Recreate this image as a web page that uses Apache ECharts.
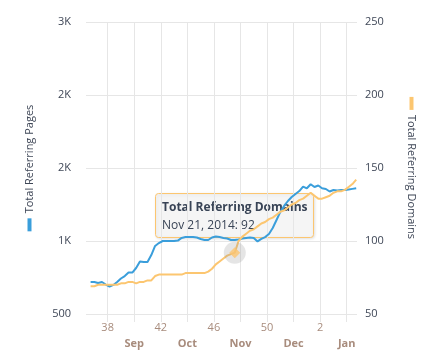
<!DOCTYPE html>
<html><head><meta charset="utf-8">
<script src="https://cdn.jsdelivr.net/npm/echarts@6/dist/echarts.min.js"></script>
<style>html,body{margin:0;padding:0;background:#fff}#c{width:442px;height:358px}</style>
</head><body><div id="c"></div>
<script>
const dates = [
 '2014-09-06','2014-09-08','2014-09-10','2014-09-12','2014-09-14','2014-09-16','2014-09-18','2014-09-20','2014-09-22','2014-09-24','2014-09-26','2014-09-28','2014-09-30',
 '2014-10-02','2014-10-04','2014-10-06','2014-10-08','2014-10-10','2014-10-12','2014-10-14','2014-10-16','2014-10-18','2014-10-20','2014-10-22','2014-10-24','2014-10-26','2014-10-28','2014-10-30',
 '2014-11-01','2014-11-03','2014-11-05','2014-11-07','2014-11-09','2014-11-11','2014-11-13','2014-11-15','2014-11-17','2014-11-19','2014-11-21','2014-11-23','2014-11-25','2014-11-27','2014-11-29',
 '2014-12-01','2014-12-03','2014-12-05','2014-12-07','2014-12-09','2014-12-11','2014-12-13','2014-12-15','2014-12-17','2014-12-19','2014-12-21','2014-12-23','2014-12-25','2014-12-27','2014-12-29','2014-12-31',
 '2015-01-02','2015-01-04','2015-01-06','2015-01-08','2015-01-10','2015-01-12','2015-01-14','2015-01-16','2015-01-18','2015-01-20','2015-01-22','2015-01-24'
];
const referringPages = [
 719,719,712,719,702,688,699,719,743,760,784,784,815,
 860,856,856,904,966,986,1000,1000,1000,1000,1003,1021,1027,1027,1027,
 1024,1014,1007,1007,1024,1031,1027,1021,1017,1007,1007,1010,1017,1021,1024,
 1021,997,1014,1027,1048,1089,1144,1199,1240,1274,1301,1322,1342,1373,1361,1389,
 1370,1380,1361,1356,1339,1349,1346,1349,1349,1353,1357,1361
];
const referringDomains = [
 69,69,70,70,70,70,70,70,71,71,72,72,71,
 72,72,73,73,76,77,77,77,77,77,77,77,78,78,78,
 78,78,78,79,81,84,86,88,90,91,92,100,103,105,107,
 108,110,112,113,115,116,118,120,121,123,125,126,128,129,131,133,
 131,129,129,130,131,133,134,134,135,137,139,142
];
const leftTicks = [500, 1000, 1500, 2000, 2500];
const rightTicks = [50, 100, 150, 200, 250];
const weekTickDates = ['2014-09-15','2014-10-13','2014-11-10','2014-12-08','2015-01-05'];
const weekLabels = ['38','42','46','50','2'];
const monthTickDates = ['2014-09-29','2014-10-27','2014-11-24','2014-12-22','2015-01-19'];
const monthLabels = ['Sep','Oct','Nov','Dec','Jan'];
const axisStart = '2014-09-03T14:00:00';
const axisEnd = '2015-01-24T10:00:00';
const hoverIndex = 38;
const seriesNames = ['Total Referring Pages', 'Total Referring Domains'];

const ts = s => +new Date(s.length === 10 ? s + 'T00:00:00' : s);
const BLUE = '#3a9edb', ORANGE = '#fcc670';
const FONT = 'Open Sans';
const DARK = '#3f4757';
const TAN = '#a88c7d';
const GRID = '#e6e6e6';
const MON = ['Jan','Feb','Mar','Apr','May','Jun','Jul','Aug','Sep','Oct','Nov','Dec'];

const weekTs = weekTickDates.map(ts);
const monthTs = monthTickDates.map(ts);
const allTicks = weekTs.concat(monthTs).sort((a, b) => a - b);

const hd = new Date(ts(dates[hoverIndex]));
const hoverText = MON[hd.getMonth()] + ' ' + hd.getDate() + ', ' + hd.getFullYear() + ': ' + referringDomains[hoverIndex];

const chart = echarts.init(document.getElementById('c'), null, {renderer: 'canvas'});
chart.setOption({
  animation: false,
  textStyle: {fontFamily: FONT},
  grid: {left: 86, right: 85, top: 22, bottom: 44, containLabel: false, outerBoundsMode: 'none'},
  xAxis: {
    type: 'value', min: ts(axisStart), max: ts(axisEnd),
    axisLine: {show: false},
    axisTick: {show: true, length: 8, lineStyle: {color: GRID}, customValues: allTicks},
    splitLine: {show: true, lineStyle: {color: GRID}},
    axisLabel: {
      customValues: allTicks, margin: 6, lineHeight: 16, fontSize: 11, color: TAN, fontFamily: FONT,
      formatter: v => {
        const i = weekTs.indexOf(v);
        if (i >= 0) return '{w|' + weekLabels[i] + '}';
        const j = monthTs.indexOf(v);
        if (j >= 0) return '\n{m|' + monthLabels[j] + '}';
        return '';
      },
      rich: {
        w: {fontSize: 11, color: TAN, fontFamily: FONT, lineHeight: 16},
        m: {fontSize: 11, color: TAN, fontFamily: FONT, fontWeight: 'bold', lineHeight: 16}
      }
    }
  },
  yAxis: [{
    type: 'value', position: 'left', min: leftTicks[0], max: leftTicks[leftTicks.length - 1], interval: leftTicks[1] - leftTicks[0],
    axisLine: {show: false}, axisTick: {show: false},
    splitLine: {show: true, lineStyle: {color: GRID}},
    axisLabel: {margin: 15, fontSize: 11, color: DARK, fontFamily: FONT,
      formatter: v => v >= 1000 ? Math.round(v / 1000) + 'K' : String(v)},
    name: '{bar| }{t|' + seriesNames[0] + '}', nameLocation: 'middle', nameRotate: 90, nameGap: 51,
    nameTextStyle: {rich: {
      bar: {backgroundColor: BLUE, width: 13, height: 4},
      t: {fontSize: 11, color: DARK, fontFamily: FONT, padding: [0, 0, 0, 5]}
    }}
  }, {
    type: 'value', position: 'right', min: rightTicks[0], max: rightTicks[rightTicks.length - 1], interval: rightTicks[1] - rightTicks[0],
    axisLine: {show: false}, axisTick: {show: false}, splitLine: {show: false},
    axisLabel: {margin: 8, fontSize: 11, color: DARK, fontFamily: FONT},
    name: '{bar| }{t|' + seriesNames[1] + '}', nameLocation: 'middle', nameRotate: -90, nameGap: 49,
    nameTextStyle: {rich: {
      bar: {backgroundColor: ORANGE, width: 13, height: 4},
      t: {fontSize: 11, color: DARK, fontFamily: FONT, padding: [0, 0, 0, 5]}
    }}
  }],
  series: [{
    name: seriesNames[0], type: 'line', yAxisIndex: 0, showSymbol: false, silent: true,
    lineStyle: {color: BLUE, width: 2}, itemStyle: {color: BLUE},
    data: dates.map((d, i) => [ts(d), referringPages[i]])
  }, {
    name: seriesNames[1], type: 'line', yAxisIndex: 1, showSymbol: false, silent: true,
    lineStyle: {color: ORANGE, width: 2}, itemStyle: {color: ORANGE},
    data: dates.map((d, i) => [ts(d), referringDomains[i]])
  }, {
    name: 'halo', type: 'scatter', yAxisIndex: 1, silent: true, symbol: 'circle', symbolSize: 22,
    itemStyle: {color: 'rgba(150,150,150,0.3)'}, z: 3,
    data: [[ts(dates[hoverIndex]), referringDomains[hoverIndex]]]
  }, {
    name: 'marker', type: 'scatter', yAxisIndex: 1, silent: true, symbol: 'diamond', symbolSize: 11,
    itemStyle: {color: ORANGE}, z: 4,
    data: [[ts(dates[hoverIndex]), referringDomains[hoverIndex]]]
  }],
  graphic: [{
    type: 'group', left: 155, top: 193, z: 100, silent: true,
    children: [{
      type: 'rect', shape: {x: 0.5, y: 0.5, width: 158, height: 44, r: 3},
      style: {fill: 'rgba(247,247,247,0.85)', stroke: ORANGE, lineWidth: 1,
        shadowBlur: 3, shadowColor: 'rgba(0,0,0,0.12)', shadowOffsetX: 1, shadowOffsetY: 1}
    }, {
      type: 'text', x: 7, y: 15,
      style: {text: seriesNames[1], fill: '#394456', font: 'bold 12px "Open Sans"', verticalAlign: 'middle', align: 'left'}
    }, {
      type: 'text', x: 7, y: 33,
      style: {text: hoverText, fill: '#394456', font: '12px "Open Sans"', verticalAlign: 'middle', align: 'left'}
    }]
  }]
});
</script>
</body></html>
